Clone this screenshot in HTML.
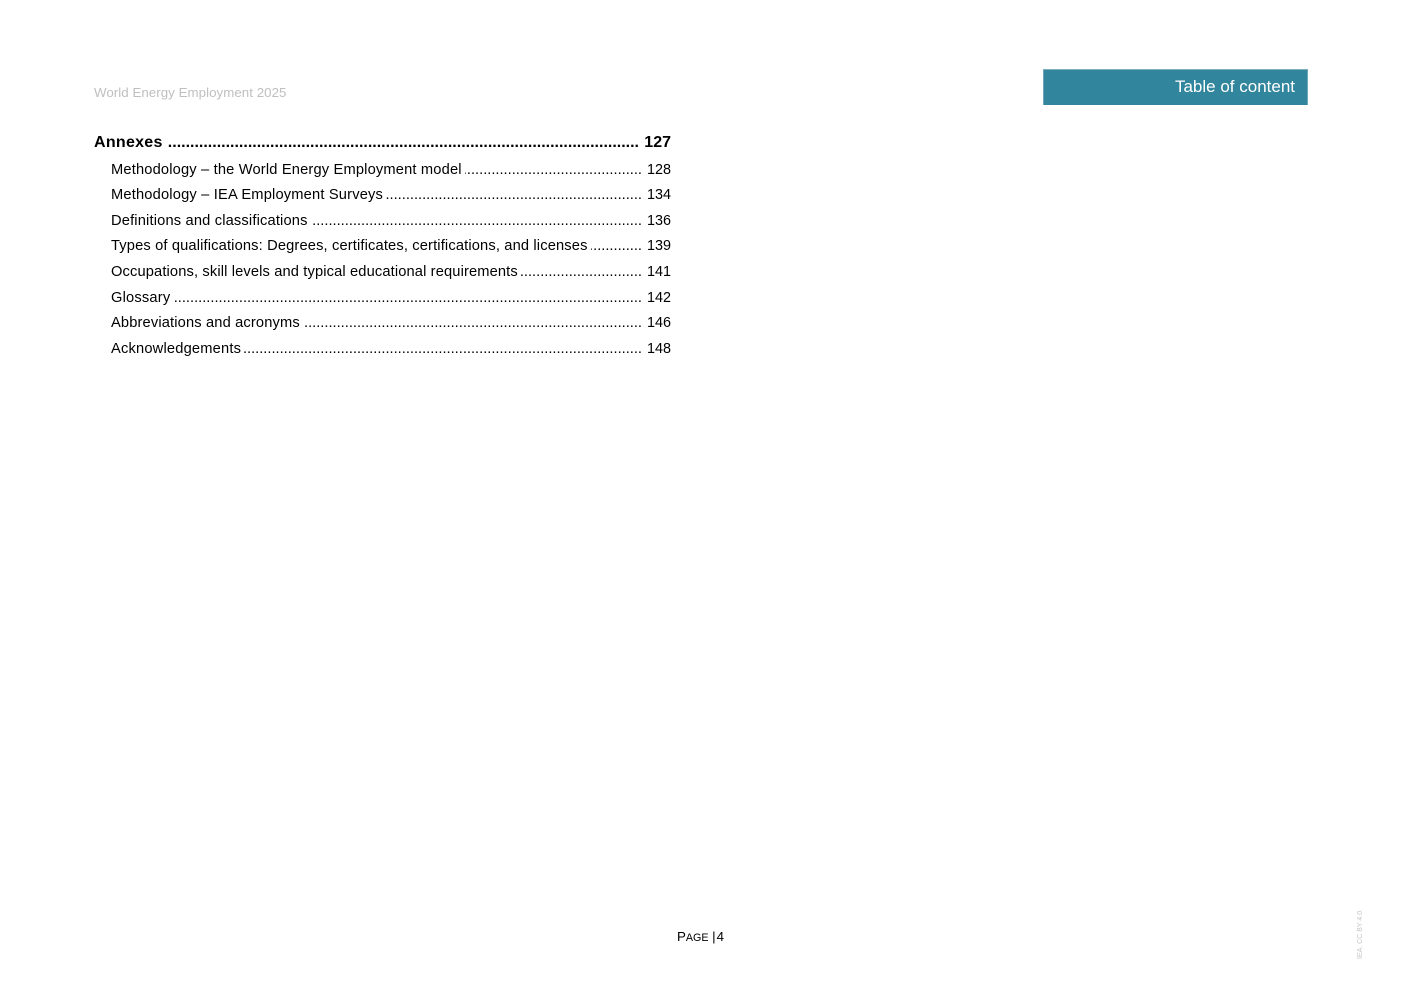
<!DOCTYPE html>
<html>
<head>
<meta charset="utf-8">
<style>
html,body{margin:0;padding:0;background:#fff;width:1403px;height:992px;overflow:hidden}
body{position:relative;font-family:"Liberation Sans",Arial,sans-serif;color:#000}
.a{position:absolute;white-space:nowrap}
.r{position:absolute;left:111px;width:560px;height:20px;font-size:14.67px;line-height:20px;white-space:nowrap}
.r .t{position:absolute;left:0;top:0;background:#fff;z-index:1;padding-right:3px}
.r .d{position:absolute;right:29px;top:0;width:530px;overflow:hidden;text-align:right;direction:rtl}
.r .p{position:absolute;right:0;top:0;font-size:14.4px}
.h{left:94px;width:577px;height:22px;font-size:16px;line-height:22px;font-weight:bold}
.h .d{right:32px;width:540px}
.h .t{padding-right:4px}
.h .p{font-size:16px}
</style>
</head>
<body>
<div class="a" style="left:94px;top:85px;font-size:13.33px;line-height:16px;color:#bfbfbf;letter-spacing:.03px">World Energy Employment 2025</div>
<div class="a" style="left:1043px;top:69px;width:265px;height:36px;background:#31859c;box-shadow:inset 0 1px 0 #7fb0c0,inset 1px 0 0 #6ea6b8,inset -1px 0 0 #6ea6b8"></div>
<div class="a" style="right:108px;top:77px;font-size:17px;line-height:20px;color:#fff">Table of content</div>

<div class="r h" style="top:132px"><span class="t" style="letter-spacing:.28px">Annexes</span><span class="d">..........................................................................................................................................</span><span class="p">127</span></div>
<div class="r" style="top:160px"><span class="t" style="letter-spacing:.17px">Methodology – the World Energy Employment model</span><span class="d">..........................................................................................................................................</span><span class="p">128</span></div>
<div class="r" style="top:185px"><span class="t" style="letter-spacing:.18px">Methodology – IEA Employment Surveys</span><span class="d">..........................................................................................................................................</span><span class="p">134</span></div>
<div class="r" style="top:211px"><span class="t" style="letter-spacing:.167px">Definitions and classifications</span><span class="d">..........................................................................................................................................</span><span class="p">136</span></div>
<div class="r" style="top:236px"><span class="t" style="letter-spacing:.15px">Types of qualifications: Degrees, certificates, certifications, and licenses</span><span class="d">..........................................................................................................................................</span><span class="p">139</span></div>
<div class="r" style="top:262px"><span class="t" style="letter-spacing:.137px">Occupations, skill levels and typical educational requirements</span><span class="d">..........................................................................................................................................</span><span class="p">141</span></div>
<div class="r" style="top:288px"><span class="t" style="letter-spacing:.19px">Glossary</span><span class="d">..........................................................................................................................................</span><span class="p">142</span></div>
<div class="r" style="top:313px"><span class="t" style="letter-spacing:.15px">Abbreviations and acronyms</span><span class="d">..........................................................................................................................................</span><span class="p">146</span></div>
<div class="r" style="top:339px"><span class="t" style="letter-spacing:.19px">Acknowledgements</span><span class="d">..........................................................................................................................................</span><span class="p">148</span></div>

<div class="a" style="left:677px;top:928px;font-size:13.33px;line-height:17px;color:#000">P<span style="font-size:10.7px">AGE</span> |<span style="margin-left:1px">4</span></div>
<div class="a" style="left:1361px;top:934px;font-size:7px;line-height:10px;color:#c4c4c4;transform:translate(-50%,-50%) rotate(-90deg)">IEA. CC BY 4.0.</div>
</body>
</html>
